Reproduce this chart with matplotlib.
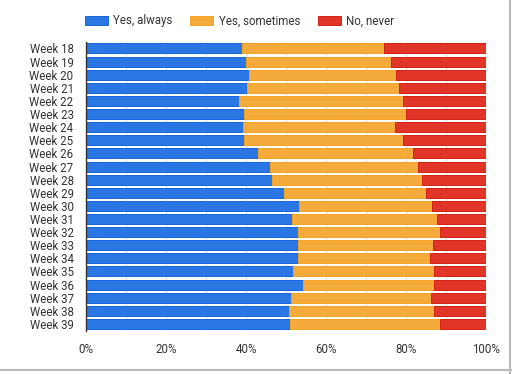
import matplotlib.pyplot as plt
import numpy as np

plt.rcParams['font.family'] = ['Roboto', 'DejaVu Sans']

weeks = ['Week %d' % w for w in range(18, 40)]
series = ['Yes, always', 'Yes, sometimes', 'No, never']
# cumulative boundaries (percent)
always = [39.0, 39.9, 40.8, 40.2, 38.3, 39.5, 39.3, 39.5, 43.0, 46.0, 46.5,
          49.5, 53.2, 51.6, 53.0, 53.0, 53.0, 51.7, 54.2, 51.3, 50.8, 51.1]
always_or_sometimes = [74.4, 76.3, 77.5, 78.3, 79.3, 79.9, 77.3, 79.3, 81.7, 82.9, 84.1,
                       85.0, 86.5, 87.7, 88.4, 86.7, 86.0, 87.0, 87.0, 86.2, 87.0, 88.4]

colors = ['#2a76e2', '#f4ab3c', '#e1352a']
edges = ['#1565dc', '#f2a31f', '#d52015']

a = np.array(always)
s = np.array(always_or_sometimes) - a
n = 100 - np.array(always_or_sometimes)

fig = plt.figure(figsize=(5.12, 3.74), dpi=100)
ax = fig.add_axes([86 / 512, 1 - 330.5 / 374, 400 / 512, 288.6 / 374])

y = np.arange(len(weeks))
left = np.zeros(len(weeks))
for vals, name, c, e in zip([a, s, n], series, colors, edges):
    ax.barh(y, vals, left=left, height=0.76, color=c, edgecolor=e,
            linewidth=0.7, label=name, zorder=2)
    left += vals

ax.set_ylim(len(weeks) - 0.5, -0.5)
ax.set_xlim(0, 100)
ax.set_yticks(y)
ax.set_yticklabels(weeks)
ax.set_xticks(np.arange(0, 101, 20))
ax.set_xticklabels(['%d%%' % v for v in range(0, 101, 20)])
ax.set_xticks(np.arange(0, 101, 10), minor=True)
ax.grid(axis='x', which='both', color='#dddddd', linewidth=0.8, zorder=0)
ax.tick_params(axis='both', which='both', length=0, labelsize=8.3, colors='#333333')
ax.tick_params(axis='y', pad=9)
ax.tick_params(axis='x', pad=9)
for sp in ['top', 'right', 'bottom']:
    ax.spines[sp].set_visible(False)
ax.spines['left'].set_color('#333333')
ax.spines['left'].set_linewidth(1)
ax.spines['left'].set_zorder(3)

leg = ax.legend(loc='lower left', bbox_to_anchor=(-0.003, 1.05), ncol=3, frameon=False,
                fontsize=8.3, handlelength=2.0, handleheight=0.9, columnspacing=1.55,
                handletextpad=0.45, borderaxespad=0, borderpad=0)
for t in leg.get_texts():
    t.set_color('#333333')

# screenshot border
fig.add_artist(plt.Line2D([510 / 512, 510 / 512], [0, 1], color='#bbbbbb', lw=1.5))
fig.add_artist(plt.Line2D([0, 1], [4 / 374, 4 / 374], color='#bbbbbb', lw=1.5))

fig.savefig('out.png', dpi=100)
